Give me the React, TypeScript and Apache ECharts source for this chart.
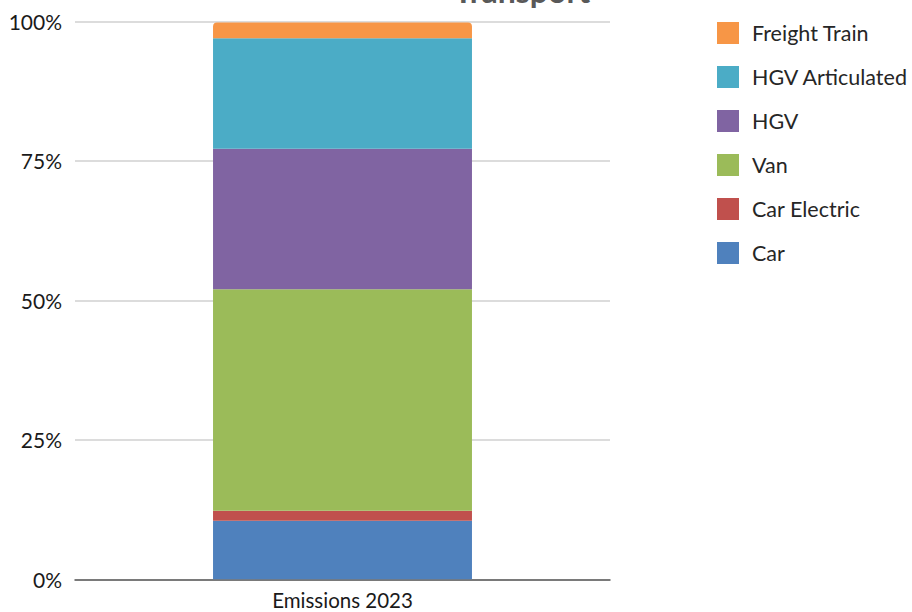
import React, { useEffect, useRef } from "react";
import * as echarts from "echarts";

const categories = ["Emissions 2023"];
const seriesNames = ["Car", "Car Electric", "Van", "HGV", "HGV Articulated", "Freight Train"];
const carValues = [10.5];
const carElectricValues = [1.8];
const vanValues = [39.7];
const hgvValues = [25.2];
const hgvArticulatedValues = [19.8];
const freightTrainValues = [2.8];
const colors = ["#4f81bd", "#c0504d", "#9bbb59", "#8064a2", "#4bacc6", "#f79646"];
const yTicks = [0, 25, 50, 75, 100];

const FONT = "Lato, 'Open Sans', sans-serif";

export default function App() {
  const ref = useRef<HTMLDivElement>(null);
  useEffect(() => {
    if (!ref.current) return;
    const chart = echarts.init(ref.current, undefined, { renderer: "svg" });
    const dataSets = [carValues, carElectricValues, vanValues, hgvValues, hgvArticulatedValues, freightTrainValues];
    const series = seriesNames.map((name, i) => ({
      name,
      type: "bar" as const,
      stack: "total",
      barWidth: "48.4%",
      data: dataSets[i],
      itemStyle: {
        color: colors[i],
        borderRadius: i === seriesNames.length - 1 ? [4, 4, 0, 0] : 0,
      },
    }));
    chart.setOption({
      animation: false,
      backgroundColor: "#ffffff",
      graphic: [
        {
          type: "text",
          x: 522,
          y: -10,
          style: {
            text: "Transport",
            fontFamily: FONT,
            fontWeight: "bold",
            fontSize: 32,
            fill: "#595959",
            align: "center",
            verticalAlign: "middle",
          },
        },
      ],
      legend: {
        orient: "vertical",
        left: 712,
        top: 17,
        itemWidth: 22,
        itemHeight: 22,
        itemGap: 22,
        icon: "rect",
        data: [...seriesNames].reverse(),
        itemStyle: { borderRadius: 2 },
        textStyle: { fontFamily: FONT, fontSize: 21.5, lineHeight: 22, color: "#262626", padding: [0, 0, 0, 8] },
      },
      grid: { left: 75, right: 302, top: 21.5, bottom: 32.7, containLabel: false },
      xAxis: {
        type: "category",
        data: categories,
        axisLine: { show: true, lineStyle: { color: "#595959", width: 1.5 } },
        axisTick: { show: false },
        axisLabel: { fontFamily: FONT, fontSize: 20.5, color: "#1a1a1a", margin: 10 },
      },
      yAxis: {
        type: "value",
        min: yTicks[0],
        max: yTicks[yTicks.length - 1],
        interval: 25,
        axisLine: { show: false },
        axisTick: { show: false },
        axisLabel: {
          fontFamily: FONT,
          fontSize: 21,
          color: "#1a1a1a",
          margin: 13,
          formatter: (v: number) => `${v}%`,
        },
        splitLine: { lineStyle: { color: "#d0d0d0", width: 1.5 } },
      },
      series,
    });
    return () => chart.dispose();
  }, []);
  return <div ref={ref} style={{ width: 912, height: 612, position: "absolute", left: 0, top: 0 }} />;
}
